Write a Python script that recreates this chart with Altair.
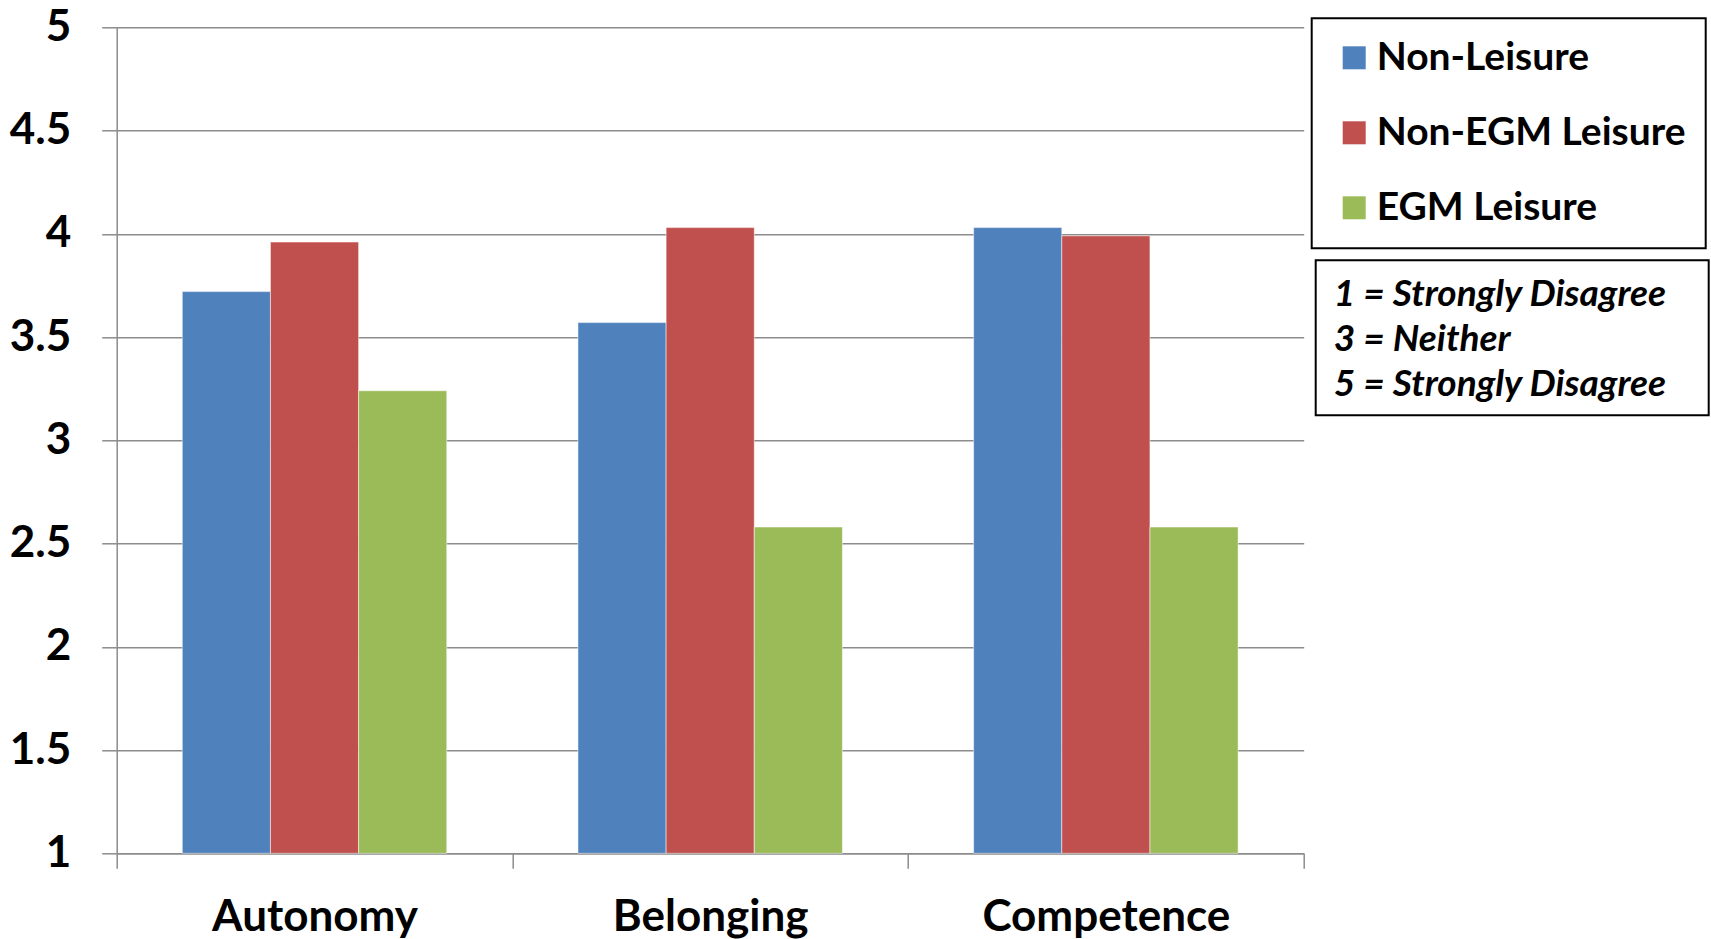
import altair as alt
import pandas as pd

categories = ["Autonomy", "Belonging", "Competence"]
series = ["Non-Leisure", "Non-EGM Leisure", "EGM Leisure"]
non_leisure = [3.72, 3.57, 4.03]
non_egm_leisure = [3.96, 4.03, 3.99]
egm_leisure = [3.24, 2.58, 2.58]
colors = ["#4F81BD", "#C0504D", "#9BBB59"]
y_ticks = [1, 1.5, 2, 2.5, 3, 3.5, 4, 4.5, 5]
note_lines = ["1 = Strongly Disagree", "3 = Neither", "5 = Strongly Disagree"]

rows = []
for s, vals in zip(series, [non_leisure, non_egm_leisure, egm_leisure]):
    for c, v in zip(categories, vals):
        rows.append({"category": c, "series": s, "value": v})
df = pd.DataFrame(rows)

FONT = "Lato"
GRID = "#8c8c8c"

bars = alt.Chart(df).mark_bar(stroke="white", strokeWidth=1, strokeOpacity=0.5).encode(
    x=alt.X("category:N", sort=categories, title=None,
            scale=alt.Scale(paddingInner=0, paddingOuter=0),
            axis=alt.Axis(labelAngle=0, labelFont=FONT, labelFontSize=44, labelFontWeight="bold",
                          labelColor="black", tickBand="extent", tickSize=15, tickColor=GRID,
                          tickWidth=1.5, domainColor=GRID, domainWidth=1.5, labelPadding=49,
                          labelBaseline="middle", labelLimit=600, grid=False)),
    xOffset=alt.XOffset("series:N", sort=series,
                        scale=alt.Scale(paddingInner=0, paddingOuter=0.744)),
    y=alt.Y("value:Q", title=None,
            scale=alt.Scale(domain=[1, 5], zero=False, nice=False),
            axis=alt.Axis(values=y_ticks, format="~g", labelFont=FONT, labelFontSize=44,
                          labelFontWeight="bold", labelColor="black", tickSize=15, tickColor=GRID,
                          tickWidth=1.5, domainColor=GRID, domainWidth=1.5, gridColor=GRID,
                          gridWidth=1.5, labelPadding=31)),
    y2=alt.datum(1),
    color=alt.Color("series:N", sort=series,
                    scale=alt.Scale(domain=series, range=colors),
                    legend=alt.Legend(title=None, orient="none", legendX=1195, legendY=-9,
                                      direction="vertical", symbolType="square", symbolSize=529,
                                      symbolStrokeWidth=0, symbolOffset=3, labelFont=FONT,
                                      labelFontSize=39, labelFontWeight="bold", labelColor="black",
                                      labelOffset=3, labelLimit=0, strokeColor="black",
                                      fillColor="white", padding=20, rowPadding=35)),
)

note_box = alt.Chart(pd.DataFrame({"k": [0]})).mark_rect(
    fill="white", stroke="black", strokeWidth=2
).encode(
    x=alt.value(1199), x2=alt.value(1592), y=alt.value(233), y2=alt.value(388)
)

note_text = alt.Chart(pd.DataFrame({"k": [0]})).mark_text(
    text=note_lines, align="left", baseline="middle", font=FONT, fontSize=37,
    fontWeight="bold", fontStyle="italic", color="black", lineHeight=44.8
).encode(x=alt.value(1217), y=alt.value(268))

chart = alt.layer(bars, note_box, note_text).properties(
    width=1187, height=826,
    padding={"left": 116.7, "top": 27.3, "right": 407.3, "bottom": 85.7},
    autosize=alt.AutoSizeParams(type="none"),
).configure_view(stroke=None).configure_legend(strokeWidth=2)

chart.save("out.html", embed_options={"renderer": "svg", "actions": False})
